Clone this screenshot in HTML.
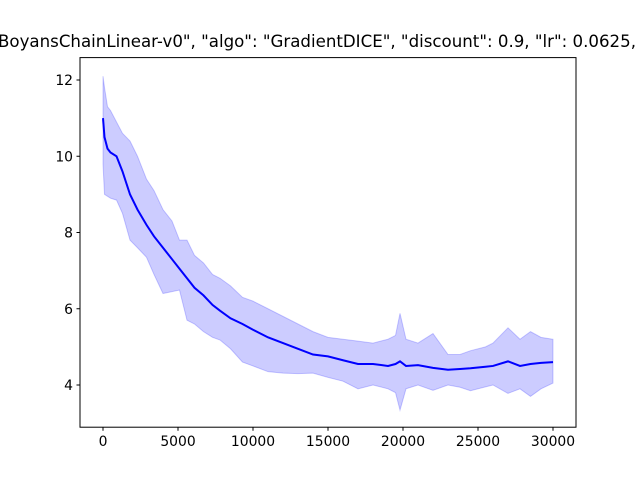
<!DOCTYPE html>
<html><head><meta charset="utf-8"><style>
body{margin:0;background:#fff}
svg{display:block;font-family:"DejaVu Sans","Liberation Sans",sans-serif}
</style></head><body>
<svg id="chart" width="640" height="480">
<text x="-2" y="47" font-size="16.5" textLength="638" lengthAdjust="spacingAndGlyphs">BoyansChainLinear-v0", "algo": "GradientDICE", "discount": 0.9, "lr": 0.0625,</text>
<g id="plot"></g>
<rect x="80" y="57.6" width="496" height="369.6" fill="none" stroke="#000" stroke-width="1"/>
</svg>
<script>
const steps=[0,100,300,500,900,1300,1800,2300,2900,3400,4000,4600,5100,5600,6100,6700,7300,7800,8500,9300,10000,11000,12000,13000,14000,15000,16000,17000,18000,19000,19500,19800,20200,21000,22000,23000,23800,24500,25500,26000,27000,27800,28500,29200,30000];
const meanVals=[11.0,10.5,10.2,10.1,10.0,9.6,9.0,8.6,8.2,7.9,7.6,7.3,7.05,6.8,6.55,6.35,6.1,5.95,5.75,5.6,5.45,5.25,5.1,4.95,4.8,4.75,4.65,4.55,4.55,4.5,4.55,4.62,4.5,4.52,4.45,4.4,4.42,4.44,4.48,4.5,4.62,4.5,4.55,4.58,4.6];
const upperVals=[12.1,11.8,11.3,11.2,10.9,10.6,10.4,10.0,9.4,9.1,8.6,8.3,7.8,7.8,7.4,7.2,6.9,6.8,6.6,6.3,6.2,6.0,5.8,5.6,5.4,5.25,5.2,5.15,5.1,5.2,5.3,5.88,5.2,5.1,5.35,4.8,4.8,4.9,5.0,5.1,5.5,5.2,5.4,5.25,5.2];
const lowerVals=[9.8,9.0,8.95,8.9,8.85,8.5,7.8,7.6,7.35,6.9,6.4,6.45,6.49,5.7,5.6,5.4,5.25,5.18,4.95,4.6,4.5,4.35,4.31,4.3,4.31,4.2,4.1,3.9,4.0,3.9,3.8,3.34,3.9,4.0,3.86,4.0,3.94,3.85,3.95,4.0,3.78,3.9,3.7,3.9,4.05];
const xTicks=[0,5000,10000,15000,20000,25000,30000];
const yTicks=[4,6,8,10,12];

const NS="http://www.w3.org/2000/svg";
const X=v=>103+(v-0)*450/30000;
const Y=v=>385-(v-4)*305/8;
const g=document.getElementById('plot');
function mk(t,a){const e=document.createElementNS(NS,t);for(const k in a)e.setAttribute(k,a[k]);g.appendChild(e);return e;}

let d=steps.map((s,i)=>(i?'L':'M')+X(s)+','+Y(upperVals[i])).join('');
for(let i=steps.length-1;i>=0;i--)d+='L'+X(steps[i])+','+Y(lowerVals[i]);
const band=mk('path',{d:d+'Z',fill:'#0000ff','fill-opacity':0.2,stroke:'#0000ff','stroke-opacity':0.2,'stroke-width':1});



const line=mk('path',{d:steps.map((s,i)=>(i?'L':'M')+X(s)+','+Y(meanVals[i])).join(''),fill:'none',stroke:'#0000ff','stroke-width':2});



xTicks.forEach(t=>{
  const tk=mk('line',{x1:X(t),x2:X(t),y1:427.2,y2:430.7,stroke:'#000'});
  
  
  const tx=mk('text',{x:X(t),y:446,'font-size':13.9,'text-anchor':'middle'});
  tx.textContent=t;
  
  
});
yTicks.forEach(t=>{
  const tk=mk('line',{x1:76.5,x2:80,y1:Y(t),y2:Y(t),stroke:'#000'});
  
  
  const tx=mk('text',{x:73,y:Y(t)+5,'font-size':13.9,'text-anchor':'end'});
  tx.textContent=t;
  
  
});
</script>
</body></html>
